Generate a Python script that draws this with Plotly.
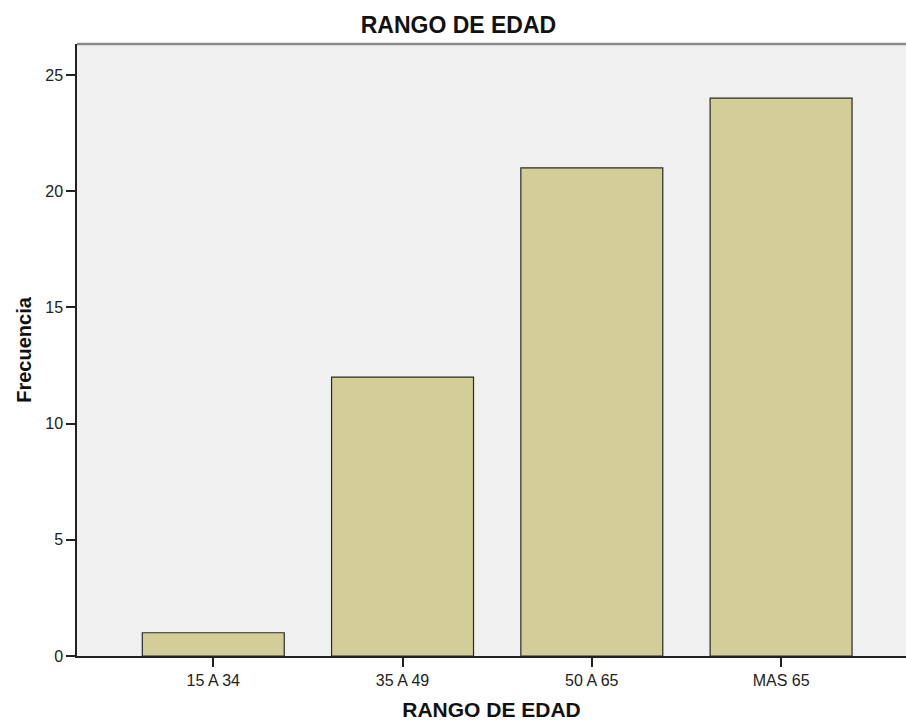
import plotly.graph_objects as go

# Age-range frequency data
categories = ["15 A 34", "35 A 49", "50 A 65", "MAS 65"]
frequencies = [1, 12, 21, 24]
y_ticks = [0, 5, 10, 15, 20, 25]

FONT = "Liberation Sans, Arial, sans-serif"

fig = go.Figure(
    go.Bar(
        x=categories,
        y=frequencies,
        width=0.75,
        marker=dict(color="#D3CE97", line=dict(color="#2a2a2a", width=1.2)),
        hoverinfo="x+y",
    )
)

fig.update_layout(
    width=906,
    height=721,
    margin=dict(l=77, r=0, t=44, b=65),
    paper_bgcolor="white",
    plot_bgcolor="#F0F0F0",
    showlegend=False,
    font=dict(family=FONT, color="#222222"),
    title=dict(
        text="<b>RANGO DE EDAD</b>",
        x=0.506,
        xref="container",
        xanchor="center",
        y=0.965,
        yref="container",
        yanchor="middle",
        font=dict(family=FONT, size=23, color="#111111"),
    ),
    xaxis=dict(
        type="category",
        range=[-0.72, 3.66],
        showgrid=False,
        zeroline=False,
        showline=True,
        linecolor="#222222",
        linewidth=1.5,
        ticks="outside",
        ticklen=9,
        tickwidth=1.5,
        tickcolor="#222222",
        tickfont=dict(family=FONT, size=16, color="#222222"),
        title=dict(
            text="<b>RANGO DE EDAD</b>",
            font=dict(family=FONT, size=21, color="#111111"),
            standoff=16,
        ),
    ),
    yaxis=dict(
        range=[0, 26.33],
        tickvals=y_ticks,
        showgrid=False,
        zeroline=False,
        showline=True,
        linecolor="#222222",
        linewidth=1.5,
        ticks="outside",
        ticklen=9,
        tickwidth=1.5,
        tickcolor="#222222",
        tickfont=dict(family=FONT, size=16, color="#222222"),
        title=dict(
            text="<b>Frecuencia</b>",
            font=dict(family=FONT, size=20, color="#111111"),
            standoff=8,
        ),
    ),
    shapes=[
        dict(
            type="line",
            xref="paper",
            yref="paper",
            x0=0,
            x1=1,
            y0=1,
            y1=1,
            line=dict(color="#8a8a8a", width=2.5),
        )
    ],
)

fig.write_html("out.html")
